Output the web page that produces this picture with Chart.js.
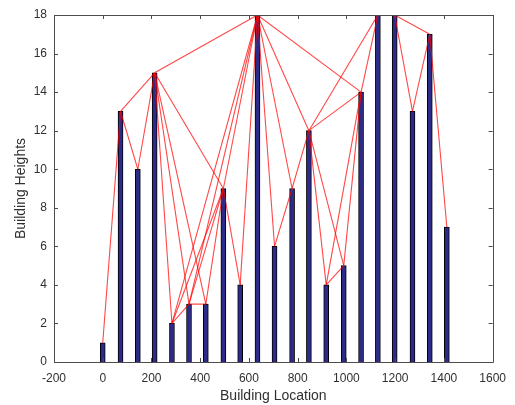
<!DOCTYPE html>
<html>
<head>
<meta charset="utf-8">
<script src="https://cdn.jsdelivr.net/npm/chart.js@4"></script>
<style>
  html, body { margin: 0; padding: 0; background: #fff; }
  #wrap { width: 515px; height: 405px; position: relative; }
</style>
</head>
<body>
<div id="wrap"><canvas id="chart" width="515" height="405"></canvas></div>
<script>
// building positions (x) and heights
const buildingX = [0, 73, 144, 213, 284, 354, 423, 495, 564, 635, 705,
                   777, 846, 917, 989, 1060, 1129, 1198, 1271, 1342, 1412];
const heights = [1, 13, 10, 15, 2, 3, 3, 9, 4, 18, 6,
                 9, 12, 4, 5, 14, 18, 18, 13, 17, 7];

// red links between building tops (index pairs)
const links = [
  [0, 1], [1, 2], [1, 3], [2, 3], [3, 4], [3, 5], [3, 6], [3, 7], [3, 9],
  [4, 5], [4, 7], [4, 9], [5, 6], [5, 7], [5, 9], [6, 7], [7, 8], [7, 9],
  [8, 9], [9, 10], [9, 11], [9, 12], [9, 15], [9, 16], [10, 11], [11, 12],
  [12, 13], [12, 14], [12, 15], [12, 16], [13, 14], [13, 15], [14, 15],
  [15, 16], [16, 17], [17, 18], [17, 19], [18, 19], [19, 20]
];

const xTicks = [-200, 0, 200, 400, 600, 800, 1000, 1200, 1400, 1600];
const yTicks = [0, 2, 4, 6, 8, 10, 12, 14, 16, 18];

const axisColor = '#4d4d4d';
const textColor = '#303030';
const fontFamily = 'Arial, "Liberation Sans", sans-serif';

const linkSets = links.map(function (l) {
  return {
    type: 'line',
    data: [
      { x: buildingX[l[0]], y: heights[l[0]] },
      { x: buildingX[l[1]], y: heights[l[1]] }
    ],
    borderColor: 'rgba(255, 0, 0, 0.72)',
    borderWidth: 1.1,
    pointRadius: 0,
    fill: false,
    order: 0
  };
});

// MATLAB-like box with inward ticks on every side
const boxTicks = {
  id: 'boxTicks',
  afterDraw(chart) {
    const c = chart.ctx, a = chart.chartArea;
    const xs = chart.scales.x, ys = chart.scales.y;
    const len = 4;
    c.save();
    c.strokeStyle = axisColor;
    c.lineWidth = 1;
    c.beginPath();
    c.rect(Math.round(a.left) + 0.5, Math.round(a.top) + 0.5,
           Math.round(a.right - a.left), Math.round(a.bottom - a.top));
    xTicks.forEach(function (t) {
      const px = Math.round(xs.getPixelForValue(t)) + 0.5;
      c.moveTo(px, a.bottom); c.lineTo(px, a.bottom - len);
      c.moveTo(px, a.top); c.lineTo(px, a.top + len);
    });
    yTicks.forEach(function (t) {
      const py = Math.round(ys.getPixelForValue(t)) + 0.5;
      c.moveTo(a.left, py); c.lineTo(a.left + len, py);
      c.moveTo(a.right, py); c.lineTo(a.right - len, py);
    });
    c.stroke();
    c.restore();
  }
};

const ctx = document.getElementById('chart');
new Chart(ctx, {
  type: 'bar',
  data: {
    datasets: [{
      type: 'bar',
      data: buildingX.map(function (x, i) { return { x: x, y: heights[i] }; }),
      backgroundColor: '#2d2b8a',
      borderColor: '#000000',
      borderWidth: 1,
      barThickness: 5,
      order: 1
    }].concat(linkSets)
  },
  options: {
    responsive: false,
    animation: false,
    events: [],
    layout: { padding: { top: 15, right: 22, left: 0, bottom: 0 } },
    plugins: {
      legend: { display: false },
      tooltip: { enabled: false }
    },
    scales: {
      x: {
        type: 'linear',
        min: -200,
        max: 1600,
        offset: false,
        afterBuildTicks: function (s) { s.ticks = xTicks.map(function (v) { return { value: v }; }); },
        afterFit: function (s) { s.height = 43; },
        grid: { display: false, drawTicks: false },
        border: { display: false },
        ticks: {
          color: textColor,
          padding: 9,
          maxRotation: 0,
          callback: function (v) { return String(v); },
          font: { family: fontFamily, size: 12 }
        },
        title: {
          display: true,
          text: 'Building Location',
          color: textColor,
          padding: { top: 4, bottom: 0 },
          font: { family: fontFamily, size: 14 }
        }
      },
      y: {
        min: 0,
        max: 18,
        afterBuildTicks: function (s) { s.ticks = yTicks.map(function (v) { return { value: v }; }); },
        afterFit: function (s) { s.width = 54; },
        grid: { display: false, drawTicks: false },
        border: { display: false },
        ticks: {
          color: textColor,
          padding: 7,
          font: { family: fontFamily, size: 12 }
        },
        title: {
          display: true,
          text: 'Building Heights',
          color: textColor,
          padding: { top: 13, bottom: 0 },
          font: { family: fontFamily, size: 14 }
        }
      }
    }
  },
  plugins: [boxTicks]
});
</script>
</body>
</html>
